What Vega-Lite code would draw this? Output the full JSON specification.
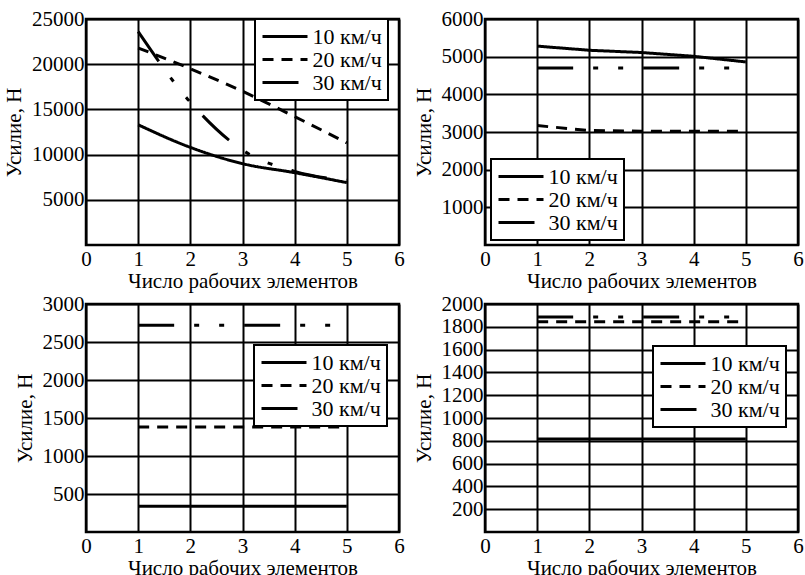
{
  "$schema": "https://vega.github.io/schema/vega-lite/v6.json",
  "background": "white",
  "padding": {"left": 2, "top": 6, "right": 0, "bottom": 0},
  "bounds": "flush",
  "columns": 2,
  "spacing": {"row": 59, "column": 86},
  "datasets": {
    "p1": [
      {"n": 1, "f": 13300, "s": "10 км/ч"}, {"n": 2, "f": 10800, "s": "10 км/ч"}, {"n": 3, "f": 9000, "s": "10 км/ч"}, {"n": 4, "f": 8000, "s": "10 км/ч"}, {"n": 5, "f": 6900, "s": "10 км/ч"},
      {"n": 1, "f": 21800, "s": "20 км/ч"}, {"n": 2, "f": 19500, "s": "20 км/ч"}, {"n": 3, "f": 17000, "s": "20 км/ч"}, {"n": 4, "f": 14200, "s": "20 км/ч"}, {"n": 5, "f": 11300, "s": "20 км/ч"},
      {"n": 1, "f": 23600, "s": "30 км/ч"}, {"n": 2, "f": 15800, "s": "30 км/ч"}, {"n": 3, "f": 10500, "s": "30 км/ч"}, {"n": 4, "f": 8150, "s": "30 км/ч"}, {"n": 5, "f": 7150, "s": "30 км/ч"}
    ],
    "p2": [
      {"n": 1, "f": 5280, "s": "10 км/ч"}, {"n": 2, "f": 5170, "s": "10 км/ч"}, {"n": 3, "f": 5110, "s": "10 км/ч"}, {"n": 4, "f": 5010, "s": "10 км/ч"}, {"n": 5, "f": 4860, "s": "10 км/ч"},
      {"n": 1, "f": 3170, "s": "20 км/ч"}, {"n": 2, "f": 3040, "s": "20 км/ч"}, {"n": 3, "f": 3020, "s": "20 км/ч"}, {"n": 4, "f": 3020, "s": "20 км/ч"}, {"n": 5, "f": 3020, "s": "20 км/ч"},
      {"n": 1, "f": 4700, "s": "30 км/ч"}, {"n": 2, "f": 4700, "s": "30 км/ч"}, {"n": 3, "f": 4700, "s": "30 км/ч"}, {"n": 4, "f": 4700, "s": "30 км/ч"}, {"n": 5, "f": 4700, "s": "30 км/ч"}
    ],
    "p3": [
      {"n": 1, "f": 340, "s": "10 км/ч"}, {"n": 2, "f": 340, "s": "10 км/ч"}, {"n": 3, "f": 340, "s": "10 км/ч"}, {"n": 4, "f": 340, "s": "10 км/ч"}, {"n": 5, "f": 340, "s": "10 км/ч"},
      {"n": 1, "f": 1380, "s": "20 км/ч"}, {"n": 2, "f": 1380, "s": "20 км/ч"}, {"n": 3, "f": 1380, "s": "20 км/ч"}, {"n": 4, "f": 1380, "s": "20 км/ч"}, {"n": 5, "f": 1380, "s": "20 км/ч"},
      {"n": 1, "f": 2720, "s": "30 км/ч"}, {"n": 2, "f": 2720, "s": "30 км/ч"}, {"n": 3, "f": 2720, "s": "30 км/ч"}, {"n": 4, "f": 2720, "s": "30 км/ч"}, {"n": 5, "f": 2720, "s": "30 км/ч"}
    ],
    "p4": [
      {"n": 1, "f": 815, "s": "10 км/ч"}, {"n": 2, "f": 815, "s": "10 км/ч"}, {"n": 3, "f": 815, "s": "10 км/ч"}, {"n": 4, "f": 815, "s": "10 км/ч"}, {"n": 5, "f": 815, "s": "10 км/ч"},
      {"n": 1, "f": 1845, "s": "20 км/ч"}, {"n": 2, "f": 1845, "s": "20 км/ч"}, {"n": 3, "f": 1845, "s": "20 км/ч"}, {"n": 4, "f": 1845, "s": "20 км/ч"}, {"n": 5, "f": 1845, "s": "20 км/ч"},
      {"n": 1, "f": 1885, "s": "30 км/ч"}, {"n": 2, "f": 1885, "s": "30 км/ч"}, {"n": 3, "f": 1885, "s": "30 км/ч"}, {"n": 4, "f": 1885, "s": "30 км/ч"}, {"n": 5, "f": 1885, "s": "30 км/ч"}
    ]
  },
  "concat": [
    {
      "width": 313, "height": 226,
      "data": {"name": "p1"},
      "mark": {"type": "line", "strokeWidth": 3, "color": "black", "interpolate": "monotone"},
      "encoding": {
        "x": {"field": "n", "type": "quantitative", "scale": {"domain": [0, 6]}, "axis": {"values": [0, 1, 2, 3, 4, 5, 6], "title": "Число рабочих элементов"}},
        "y": {"field": "f", "type": "quantitative", "scale": {"domain": [0, 25000]}, "axis": {"values": [5000, 10000, 15000, 20000, 25000], "title": "Усилие, Н"}},
        "strokeDash": {
          "field": "s", "type": "nominal",
          "scale": {"domain": ["10 км/ч", "20 км/ч", "30 км/ч"], "range": [[1, 0], [11, 8], [36, 20, 5, 20, 5, 20]]},
          "legend": {"title": null, "orient": "none", "legendX": 169, "legendY": 0,
            "encode": {"symbols": {"update": {"strokeDash": {"signal": "datum.label === '30 км/ч' ? [19,2,4,2,3,3,30] : datum.label === '20 км/ч' ? [6,10,13,10,6] : [1,0]"}}}}
          }
        }
      }
    },
    {
      "width": 313, "height": 226,
      "data": {"name": "p2"},
      "mark": {"type": "line", "strokeWidth": 3, "color": "black"},
      "encoding": {
        "x": {"field": "n", "type": "quantitative", "scale": {"domain": [0, 6]}, "axis": {"values": [0, 1, 2, 3, 4, 5, 6], "title": "Число рабочих элементов"}},
        "y": {"field": "f", "type": "quantitative", "scale": {"domain": [0, 6000]}, "axis": {"values": [1000, 2000, 3000, 4000, 5000, 6000], "title": "Усилие, Н"}},
        "strokeDash": {
          "field": "s", "type": "nominal",
          "scale": {"domain": ["10 км/ч", "20 км/ч", "30 км/ч"], "range": [[1, 0], [11, 8], [36, 20, 5, 20, 5, 20]]},
          "legend": {"title": null, "orient": "none", "legendX": 6, "legendY": 140,
            "encode": {"symbols": {"update": {"strokeDash": {"signal": "datum.label === '30 км/ч' ? [19,2,4,2,3,3,30] : datum.label === '20 км/ч' ? [6,10,13,10,6] : [1,0]"}}}}
          }
        }
      }
    },
    {
      "width": 313, "height": 228,
      "data": {"name": "p3"},
      "mark": {"type": "line", "strokeWidth": 3, "color": "black"},
      "encoding": {
        "x": {"field": "n", "type": "quantitative", "scale": {"domain": [0, 6]}, "axis": {"values": [0, 1, 2, 3, 4, 5, 6], "title": "Число рабочих элементов"}},
        "y": {"field": "f", "type": "quantitative", "scale": {"domain": [0, 3000]}, "axis": {"values": [500, 1000, 1500, 2000, 2500, 3000], "title": "Усилие, Н"}},
        "strokeDash": {
          "field": "s", "type": "nominal",
          "scale": {"domain": ["10 км/ч", "20 км/ч", "30 км/ч"], "range": [[1, 0], [11, 8], [36, 20, 5, 20, 5, 20]]},
          "legend": {"title": null, "orient": "none", "legendX": 168, "legendY": 41,
            "encode": {"symbols": {"update": {"strokeDash": {"signal": "datum.label === '30 км/ч' ? [19,2,4,2,3,3,30] : datum.label === '20 км/ч' ? [6,10,13,10,6] : [1,0]"}}}}
          }
        }
      }
    },
    {
      "width": 313, "height": 228,
      "data": {"name": "p4"},
      "mark": {"type": "line", "strokeWidth": 3, "color": "black"},
      "encoding": {
        "x": {"field": "n", "type": "quantitative", "scale": {"domain": [0, 6]}, "axis": {"values": [0, 1, 2, 3, 4, 5, 6], "title": "Число рабочих элементов"}},
        "y": {"field": "f", "type": "quantitative", "scale": {"domain": [0, 2000]}, "axis": {"values": [200, 400, 600, 800, 1000, 1200, 1400, 1600, 1800, 2000], "title": "Усилие, Н"}},
        "strokeDash": {
          "field": "s", "type": "nominal",
          "scale": {"domain": ["10 км/ч", "20 км/ч", "30 км/ч"], "range": [[1, 0], [11, 8], [36, 20, 5, 20, 5, 20]]},
          "legend": {"title": null, "orient": "none", "legendX": 168, "legendY": 42,
            "encode": {"symbols": {"update": {"strokeDash": {"signal": "datum.label === '30 км/ч' ? [19,2,4,2,3,3,30] : datum.label === '20 км/ч' ? [6,10,13,10,6] : [1,0]"}}}}
          }
        }
      }
    }
  ],
  "resolve": {"scale": {"strokeDash": "independent"}, "legend": {"strokeDash": "independent"}},
  "config": {
    "font": "Liberation Serif",
    "view": {"stroke": "black", "strokeWidth": 2.5},
    "axis": {
      "grid": true, "gridColor": "black", "gridWidth": 2, "gridOpacity": 1,
      "domain": false, "ticks": false, "labelFlush": false, "format": "d",
      "labelFont": "Liberation Serif", "labelFontSize": 21, "labelColor": "black",
      "titleFont": "Liberation Serif", "titleFontSize": 21, "titleFontWeight": "normal", "titleColor": "black"
    },
    "axisX": {"titlePadding": 1, "labelPadding": 3},
    "axisY": {"titlePadding": 7, "labelPadding": 2},
    "legend": {
      "labelFont": "Liberation Serif", "labelFontSize": 22, "labelColor": "black", "labelLimit": 200,
      "symbolType": "M-2.25,0H2.25", "symbolSize": 400, "symbolStrokeWidth": 3, "symbolStrokeColor": "black", "symbolOffset": 12.5,
      "strokeColor": "black", "strokeWidth": 2, "fillColor": "white", "padding": 6, "rowPadding": -1, "labelOffset": 16
    }
  }
}
